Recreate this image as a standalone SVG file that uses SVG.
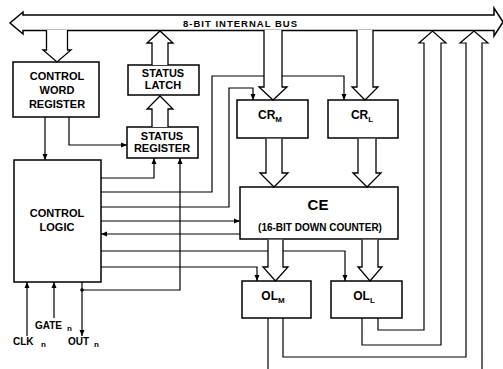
<svg xmlns="http://www.w3.org/2000/svg" width="503" height="369" viewBox="0 0 503 369">
<style>
.box{fill:#fff;stroke:#000;stroke-width:1.5}
.ln{fill:none;stroke:#000;stroke-width:1.2}
.ha{fill:#fff;stroke:#000;stroke-width:1.3;stroke-linejoin:miter}
.t{font-family:"Liberation Sans",Arial,sans-serif;font-weight:bold;font-size:11px;fill:#000;text-anchor:middle}
.p{font-family:"Liberation Sans",Arial,sans-serif;font-weight:bold;font-size:10px;fill:#000}
.s{font-family:"Liberation Sans",Arial,sans-serif;font-weight:bold;font-size:8px;fill:#000}
</style>
<defs>
<marker id="ah" viewBox="0 0 6 6" refX="6" refY="3" markerWidth="6" markerHeight="6" orient="auto" markerUnits="userSpaceOnUse"><path d="M0,0.5 L6,3 L0,5.5 Z" fill="#000"/></marker>
</defs>
<g id="connectors">
<path class="ln" d="M45,117 V160" marker-end="url(#ah)"/>
<path class="ln" d="M69,117 V145 H127" marker-end="url(#ah)"/>
<path class="ln" d="M101,178 H154 V158" marker-end="url(#ah)"/>
<path class="ln" d="M82,282 V336" marker-end="url(#ah)"/>
<path class="ln" d="M82,290 H180 V158" marker-end="url(#ah)"/>
<circle cx="82" cy="290" r="1.8" fill="#000"/>
<path class="ln" d="M27,336 V282" marker-end="url(#ah)"/>
<path class="ln" d="M54,318 V282" marker-end="url(#ah)"/>
<path class="ln" d="M101,192 H212 V76 H344 V100" marker-end="url(#ah)"/>
<path class="ln" d="M101,207 H229 V88 H253 V100" marker-end="url(#ah)"/>
<path class="ln" d="M101,221 H240" marker-end="url(#ah)"/>
<path class="ln" d="M240,234 H101" marker-end="url(#ah)"/>
<path class="ln" d="M101,251 H345 V281" marker-end="url(#ah)"/>
<path class="ln" d="M101,267 H257 V281" marker-end="url(#ah)"/>
<path class="ln" d="M378,318 V330 H424 V43 H419 L432.5,31 L446,43 H441 V345 H362 V318"/>
<path class="ln" d="M283,318 V357 H466 V43 H460 L474,31 L488,43 H482 V370"/>
<path class="ln" d="M268,318 V370"/>
</g>
<g id="bus">
<path class="box" d="M23,15 H494 V8 L503,22 L494,36 V30.5 H23 V34 L10,23 L23,12 Z"/>
<text class="t" x="240" y="27" textLength="114" lengthAdjust="spacing" style="font-size:9.5px">8-BIT INTERNAL BUS</text>
</g>
<g id="control-word-register">
<rect class="box" x="13" y="62" width="86" height="55"/>
<text class="t" x="57" y="80">CONTROL</text>
<text class="t" x="57" y="94">WORD</text>
<text class="t" x="57" y="108">REGISTER</text>
</g>
<g id="status-latch">
<rect class="box" x="128" y="65" width="71" height="30"/>
<text class="t" x="163" y="77">STATUS</text>
<text class="t" x="163" y="89">LATCH</text>
</g>
<g id="status-register">
<rect class="box" x="127" y="127" width="71" height="31"/>
<text class="t" x="162" y="140">STATUS</text>
<text class="t" x="162" y="152">REGISTER</text>
</g>
<g id="control-logic">
<rect class="box" x="14" y="160" width="87" height="122"/>
<text class="t" x="57" y="217">CONTROL</text>
<text class="t" x="57" y="231">LOGIC</text>
</g>
<g id="cr-m">
<rect class="box" x="237" y="100" width="71" height="38"/>
<text class="t" x="270" y="119" style="font-size:12px">CR<tspan class="s" dy="3">M</tspan></text>
</g>
<g id="cr-l">
<rect class="box" x="328" y="100" width="70" height="38"/>
<text class="t" x="362" y="119" style="font-size:12px">CR<tspan class="s" dy="3">L</tspan></text>
</g>
<g id="ce">
<rect class="box" x="240" y="187" width="158" height="52"/>
<text class="t" x="318" y="210" style="font-size:15px">CE</text>
<text class="t" x="320" y="231" style="font-size:10px">(16-BIT DOWN COUNTER)</text>
</g>
<g id="ol-m">
<rect class="box" x="242" y="281" width="69" height="37"/>
<text class="t" x="273" y="300" style="font-size:12px">OL<tspan class="s" dy="3">M</tspan></text>
</g>
<g id="ol-l">
<rect class="box" x="331" y="281" width="71" height="37"/>
<text class="t" x="364" y="300" style="font-size:12px">OL<tspan class="s" dy="3">L</tspan></text>
</g>
<g id="bus-arrows">
<path class="ha" d="M46.5,30 V50 H43 L57,62 L71,50 H67.5 V30"/>
<path class="ha" d="M152,65 V43 H147 L160,31 L173,43 H168 V65"/>
<path class="ha" d="M152,127 V109 H147 L160,96 L173,109 H168 V127"/>
<path class="ha" d="M264,30 V87 H259 L273,100 L287,87 H282 V30"/>
<path class="ha" d="M357,30 V87 H352 L365,100 L378,87 H373 V30"/>
<path class="ha" d="M266,138.8 V173 H260 L274,187 L288,173 H282 V138.8"/>
<path class="ha" d="M358,138.8 V173 H353 L367,187 L381,173 H376 V138.8"/>
<path class="ha" d="M268,239.8 V267 H263 L275.5,281 L288,267 H283 V239.8"/>
<path class="ha" d="M362,239.8 V267 H358 L370,281 L382,267 H378 V239.8"/>
</g>
<g id="pin-labels">
<text class="p" x="35" y="329">GATE</text>
<text class="s" x="67" y="331">n</text>
<text class="p" x="13" y="345">CLK</text>
<text class="s" x="41" y="347">n</text>
<text class="p" x="68" y="345">OUT</text>
<text class="s" x="94" y="347">n</text>
</g>
</svg>
